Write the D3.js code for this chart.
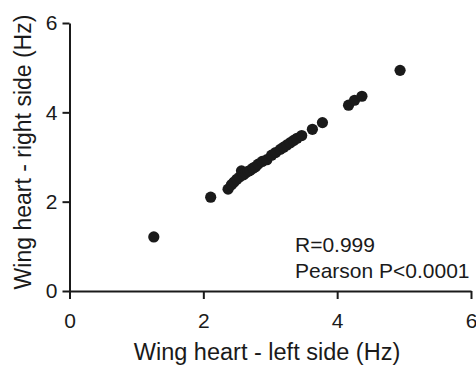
<!DOCTYPE html>
<html>
<head>
<meta charset="utf-8">
<script src="https://cdn.jsdelivr.net/npm/d3@7"></script>
<style>
  body { margin: 0; background: #fff; }
  text { font-family: "Liberation Sans", Arial, sans-serif; fill: #1a1a1a; }
</style>
</head>
<body>
<svg id="chart" width="476" height="367"></svg>
<script>
// Data (Hz)
const leftSide = [1.26, 2.11, 2.37, 2.42, 2.46, 2.5, 2.54, 2.57, 2.6, 2.63, 2.67, 2.7, 2.74, 2.78,
  2.82, 2.88, 2.95, 3.02, 3.08, 3.15, 3.2, 3.25, 3.3, 3.35, 3.4, 3.47, 3.63, 3.78, 4.17, 4.26, 4.37, 4.94];
const rightSide = [1.21, 2.1, 2.28, 2.38, 2.44, 2.5, 2.55, 2.69, 2.6, 2.64, 2.68, 2.7, 2.75, 2.78,
  2.84, 2.9, 2.94, 3.04, 3.1, 3.17, 3.22, 3.27, 3.32, 3.37, 3.42, 3.48, 3.62, 3.77, 4.16, 4.27, 4.36, 4.94];
const xTicks = [0, 2, 4, 6];
const yTicks = [0, 2, 4, 6];

const svg = d3.select('#chart');
const x = d3.scaleLinear([0, 6], [69.5, 471]);
const y = d3.scaleLinear([0, 6], [291, 23]);

// Axes
const xAxis = svg.append('g')
  .attr('transform', `translate(0, ${y(0)})`)
  .call(d3.axisBottom(x).tickValues(xTicks).tickFormat(d3.format('d'))
    .tickSize(8).tickPadding(14).tickSizeOuter(0));
const yAxis = svg.append('g')
  .attr('transform', `translate(${x(0)}, 0)`)
  .call(d3.axisLeft(y).tickValues(yTicks).tickFormat(d3.format('d'))
    .tickSize(7).tickPadding(5).tickSizeOuter(0));

[xAxis, yAxis].forEach((g) => {
  g.select('.domain').attr('stroke', '#1a1a1a').attr('stroke-width', 2);
  g.selectAll('.tick line').attr('stroke', '#1a1a1a').attr('stroke-width', 2);
  g.selectAll('.tick text').attr('font-size', 21).attr('fill', '#1a1a1a')
    .style('font-family', '"Liberation Sans", Arial, sans-serif');
});

// Points
svg.append('g')
  .selectAll('circle')
  .data(leftSide.map((d, i) => [d, rightSide[i]]))
  .join('circle')
  .attr('cx', (d) => x(d[0]))
  .attr('cy', (d) => y(d[1]))
  .attr('r', 5.6)
  .attr('fill', '#1a1a1a');

// Axis titles
svg.append('text')
  .attr('x', 267).attr('y', 360)
  .attr('text-anchor', 'middle')
  .attr('font-size', 23.5)
  .text('Wing heart - left side (Hz)');
svg.append('text')
  .attr('transform', 'translate(31, 152) rotate(-90)')
  .attr('text-anchor', 'middle')
  .attr('font-size', 23)
  .text('Wing heart - right side (Hz)');

// Stats annotation
svg.append('text').attr('x', 295).attr('y', 252).attr('font-size', 21).text('R=0.999');
svg.append('text').attr('x', 295).attr('y', 278).attr('font-size', 21).text('Pearson P<0.0001');
</script>
</body>
</html>
